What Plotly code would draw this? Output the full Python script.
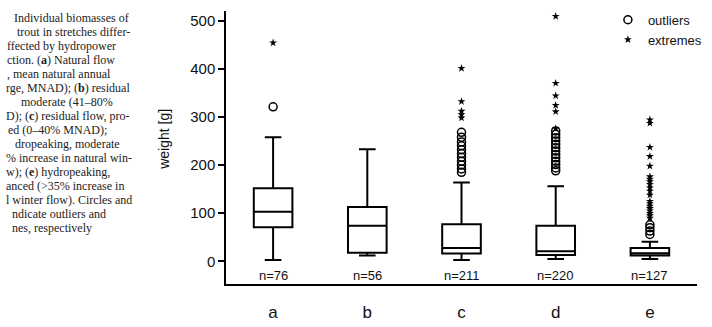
import plotly.graph_objects as go

# ---- data ----
categories = ["a", "b", "c", "d", "e"]
n_labels = ["n=76", "n=56", "n=211", "n=220", "n=127"]
q1 = [71, 18, 16.5, 13, 12]
median = [103, 74, 28, 21, 17]
q3 = [152, 113, 77, 74, 28]
lower_whisker = [3, 12, 3, 5, 5]
upper_whisker = [258, 233, 164, 156, 41]

outliers = {
    "a": [321],
    "b": [],
    "c": [268, 258, 248, 240, 232, 224, 216, 208, 200, 192, 185],
    "d": [271, 264, 257, 250, 243, 236, 229, 222, 215, 208, 201, 194, 188],
    "e": [76, 70, 63, 56],
}
extremes = {
    "a": [454],
    "b": [],
    "c": [401, 332, 312, 305, 298],
    "d": [509, 370, 344, 324, 311, 276],
    "e": [294, 287, 237, 218, 198, 176, 171, 166, 160, 153, 146, 138,
          125, 120, 115, 110, 105, 100, 95, 90],
}
y_ticks = [0, 100, 200, 300, 400, 500]

caption_lines = [
    "Individual biomasses of",
    "trout in stretches differ-",
    "ffected by hydropower",
    "ction. (<b>a</b>) Natural flow",
    ", mean natural annual",
    "rge, MNAD); (<b>b</b>) residual",
    "moderate (41–80%",
    "D); (<b>c</b>) residual flow, pro-",
    "ed (0–40% MNAD);",
    "dropeaking, moderate",
    "% increase in natural win-",
    "w); (<b>e</b>) hydropeaking,",
    "anced (>35% increase in",
    "l winter flow). Circles and",
    "ndicate outliers and",
    "nes, respectively",
]
caption_left_px = [8, 12, 1, 1, 1, 0.5, 16, 0.5, 2, 9, 0.5, 0.5, 0.5, 0.5, 6, 6]

# ---- layout geometry ----
W, H = 712, 327
ML, MR, MT, MB = 226, 5, 7, 31
PW, PH = W - ML - MR, H - MT - MB

def px_x(px):
    return (px - ML) / PW

def px_y(py):
    return (H - MB - py) / PH

fig = go.Figure()

fig.add_trace(go.Box(
    x=categories,
    q1=q1, median=median, q3=q3,
    lowerfence=lower_whisker, upperfence=upper_whisker,
    boxpoints=False,
    width=0.41,
    whiskerwidth=0.43,
    line=dict(color="black", width=2),
    fillcolor="rgba(0,0,0,0)",
    showlegend=False,
    hoverinfo="skip",
))

ox, oy, ex, ey = [], [], [], []
for c in categories:
    ox += [c] * len(outliers[c]); oy += outliers[c]
    ex += [c] * len(extremes[c]); ey += extremes[c]

fig.add_trace(go.Scatter(
    x=ox, y=oy, mode="markers", name="outliers", legend="legend",
    marker=dict(symbol="circle-open", size=8, color="black", line=dict(width=1.5)),
))
fig.add_trace(go.Scatter(
    x=ex, y=ey, mode="markers", name="extremes", legend="legend2",
    marker=dict(symbol="star", size=6, color="black"),
))

for c, lab in zip(categories, n_labels):
    fig.add_annotation(x=c, y=-29.5, xref="x", yref="y", text=lab,
                       showarrow=False, font=dict(size=13, color="#111"),
                       xanchor="center", yanchor="middle")

fig.add_annotation(x=px_x(163), y=px_y(143), xref="paper", yref="paper",
                   text="weight [g]", textangle=-90, showarrow=False,
                   font=dict(size=14, color="#111"),
                   xanchor="center", yanchor="middle")

line_h = 14.85
for i, (t, xp) in enumerate(zip(caption_lines, caption_left_px)):
    fig.add_annotation(x=px_x(xp), y=px_y(14.0 + i * line_h), xref="paper", yref="paper",
                       text=t, showarrow=False, borderpad=0,
                       font=dict(family="Liberation Serif, Times New Roman, serif",
                                 size=12.0, color="#222"),
                       xanchor="left", yanchor="middle")

leg_common = dict(xanchor="left", yanchor="middle", bgcolor="rgba(0,0,0,0)",
                  font=dict(size=13, color="#111"), tracegroupgap=0)
fig.update_layout(
    width=W, height=H,
    margin=dict(l=ML, r=MR, t=MT, b=MB, pad=0),
    paper_bgcolor="white", plot_bgcolor="white",
    font=dict(family="Liberation Sans, Arial, sans-serif", color="#111"),
    legend=dict(x=px_x(616), y=px_y(16.3), **leg_common),
    legend2=dict(x=px_x(616), y=px_y(37.3), **leg_common),
    showlegend=True,
)
fig.update_xaxes(
    type="category", categoryorder="array", categoryarray=categories,
    range=[-0.5, 4.5],
    showline=True, linecolor="black", linewidth=1.5,
    ticks="", showgrid=False, zeroline=False,
    tickfont=dict(size=17, color="#111"), ticklabelstandoff=12,
)
fig.update_yaxes(
    range=[-47, 520],
    tickvals=y_ticks, ticktext=[str(v) for v in y_ticks],
    showline=True, linecolor="black", linewidth=1.5,
    ticks="outside", ticklen=6, tickwidth=1.5, tickcolor="black",
    showgrid=False, zeroline=False,
    tickfont=dict(size=15, color="#111"),
)

fig.write_html("out.html")
